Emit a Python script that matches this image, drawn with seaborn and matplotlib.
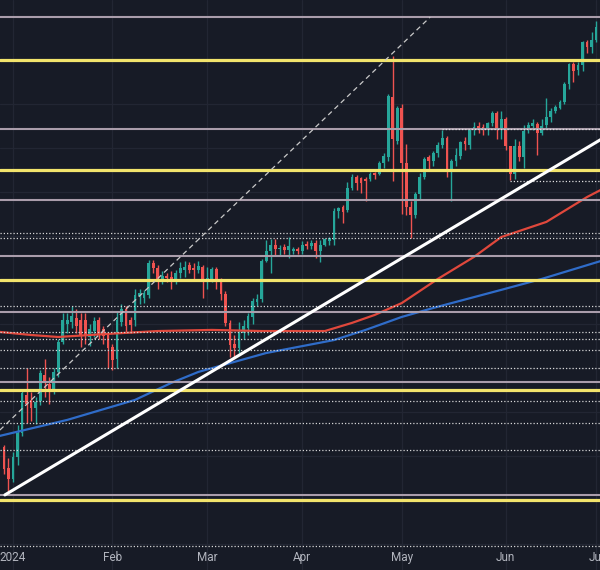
import numpy as np
import pandas as pd
import matplotlib
matplotlib.use("Agg")
import matplotlib.pyplot as plt
import seaborn as sns

# ---- daily candles, Dec 28 2023 .. Jul 1 2024 (bar 0 = Jan 2 2024) ----
first_bar = -2
opens = [142.40, 141.45,
         140.95, 141.95, 143.05, 144.75, 144.55, 144.20, 144.50, 145.70, 145.25, 144.90,
         145.80, 147.20, 148.00, 148.10, 148.25, 148.20, 148.20, 147.40, 147.70, 148.20,
         147.75, 147.50,
         146.95, 146.40, 148.10, 148.70, 148.20, 148.20, 149.25, 149.20, 149.30, 150.75,
         150.55, 149.90, 150.20, 150.15, 149.95, 150.30, 150.45, 150.70, 150.55, 150.45,
         150.60,
         149.95, 150.05, 150.50, 149.95, 149.35, 148.05, 147.10, 146.90, 147.60, 147.80,
         148.30, 149.00, 149.15, 150.85, 151.30, 151.60, 151.40, 151.50, 151.35, 151.30,
         151.40,
         151.30, 151.65, 151.55, 151.70, 151.30, 151.60, 151.75, 151.80, 153.15, 153.30,
         153.20, 154.20, 154.70, 154.65, 154.60, 154.60, 154.85, 154.80, 155.30, 155.60,
         158.30, 156.30,
         157.80, 155.30, 153.30, 152.95, 153.90, 154.70, 155.60, 155.40, 155.75, 156.15,
         156.45, 154.90, 155.40, 155.65, 156.30, 156.15, 156.80, 157.00, 156.95, 156.80,
         157.15, 157.60, 156.80,
         157.30, 156.10, 154.80, 156.10, 155.60, 156.80, 157.00, 157.10, 156.70, 157.05,
         157.40, 157.70, 157.80, 158.10, 158.90, 159.80, 159.55, 159.75, 160.80, 160.60,
         160.90]
highs = [142.50, 141.90,
         142.20, 143.40, 145.00, 146.00, 144.90, 144.70, 145.90, 146.40, 145.60, 146.00,
         147.30, 148.50, 148.50, 148.80, 148.70, 148.50, 148.50, 148.00, 148.30, 148.30,
         147.90, 147.60,
         147.10, 148.60, 148.90, 148.80, 148.30, 149.60, 149.60, 149.55, 150.90, 150.90,
         150.70, 150.40, 150.30, 150.40, 150.45, 150.80, 150.85, 150.80, 150.75, 150.85,
         150.70,
         150.60, 150.60, 150.60, 150.10, 149.50, 148.20, 147.50, 148.10, 148.20, 148.50,
         149.20, 149.35, 150.95, 151.80, 151.85, 151.85, 151.60, 151.65, 151.95, 151.50,
         151.50,
         151.75, 151.75, 151.80, 151.80, 151.80, 151.90, 151.95, 153.25, 153.30, 153.40,
         154.45, 154.80, 154.75, 154.70, 154.70, 154.90, 154.90, 155.40, 155.75, 158.45,
         160.20, 157.90,
         158.00, 156.20, 153.60, 154.00, 154.85, 155.60, 155.70, 155.85, 156.25, 156.80,
         156.55, 155.50, 156.00, 156.30, 156.50, 156.85, 157.20, 157.20, 157.10, 157.20,
         157.70, 157.70, 157.70,
         157.40, 156.10, 156.40, 156.30, 157.05, 157.20, 157.30, 157.20, 157.30, 158.25,
         157.80, 157.95, 158.20, 159.00, 159.85, 159.90, 159.90, 160.85, 160.90, 161.27,
         161.75]
lows = [141.20, 140.40,
        140.80, 141.60, 142.90, 143.50, 143.60, 143.45, 144.30, 144.70, 144.35, 144.80,
        145.60, 147.10, 147.60, 147.80, 147.60, 146.95, 147.10, 147.00, 147.40, 147.30,
        147.10, 146.00,
        145.90, 146.00, 147.90, 147.60, 147.60, 147.90, 148.90, 148.95, 149.20, 150.30,
        149.60, 149.80, 149.90, 149.60, 149.80, 150.10, 150.15, 150.30, 150.05, 150.30,
        149.20,
        149.60, 149.90, 149.60, 149.10, 147.90, 146.50, 146.50, 146.70, 147.30, 147.50,
        148.00, 148.80, 149.00, 150.80, 150.30, 151.10, 151.10, 151.20, 151.00, 151.20,
        151.20,
        151.20, 151.40, 151.40, 151.00, 150.80, 151.55, 151.60, 151.60, 152.80, 152.60,
        153.10, 154.10, 154.10, 153.95, 153.60, 154.50, 154.60, 154.75, 155.10, 155.40,
        154.50, 156.20,
        153.00, 152.95, 151.90, 152.80, 153.70, 154.60, 155.00, 155.20, 155.60, 156.00,
        154.70, 153.60, 155.20, 155.50, 155.90, 155.95, 156.60, 156.70, 156.60, 156.60,
        157.00, 156.40, 156.40,
        155.90, 154.55, 154.60, 155.40, 155.10, 156.70, 156.80, 155.70, 156.60, 156.90,
        157.20, 157.60, 157.75, 158.00, 158.70, 159.00, 159.30, 159.50, 160.30, 160.30,
        160.80]
closes = [141.40, 140.95,
          141.95, 143.05, 144.85, 144.35, 144.20, 144.45, 145.75, 145.30, 144.90, 145.80,
          147.20, 148.20, 148.20, 148.35, 147.90, 147.45, 147.50, 147.75, 148.15, 147.50,
          147.45, 146.90,
          146.35, 148.20, 148.70, 147.90, 147.95, 149.30, 149.40, 149.40, 150.75, 150.55,
          149.90, 150.20, 150.10, 149.95, 150.30, 150.55, 150.60, 150.45, 150.45, 150.65,
          149.90,
          150.10, 150.50, 149.95, 149.35, 148.05, 147.05, 146.90, 147.65, 147.90, 148.35,
          149.05, 149.15, 150.85, 151.30, 151.60, 151.40, 151.45, 151.35, 151.55, 151.40,
          151.30,
          151.60, 151.55, 151.70, 151.30, 151.60, 151.85, 151.90, 153.15, 153.25, 153.10,
          154.20, 154.70, 154.40, 154.40, 154.50, 154.80, 154.75, 155.30, 155.65, 158.35,
          156.40, 157.80,
          155.30, 153.30, 152.95, 153.90, 154.70, 155.50, 155.40, 155.75, 156.15, 156.45,
          154.90, 155.40, 155.70, 156.25, 156.20, 156.80, 156.95, 156.90, 156.85, 157.15,
          157.60, 156.80, 157.30,
          156.10, 154.80, 156.10, 155.60, 156.75, 157.05, 157.15, 156.70, 157.00, 157.40,
          157.70, 157.85, 158.10, 158.90, 159.80, 159.50, 159.75, 160.80, 160.60, 160.90,
          161.50]

month_ticks = [0, 22, 43, 64, 86, 109, 129]
month_labels = ["2024", "Feb", "Mar", "Apr", "May", "Jun", "Jul"]

# moving averages (bar index, price)
ma_red_bar = [-3, 4, 10, 21, 32, 44, 55, 69, 75, 80, 86, 94, 102, 108, 118, 127, 130]
ma_red_val = [147.64, 147.50, 147.41, 147.55, 147.68, 147.73, 147.68, 147.68, 148.05,
              148.41, 148.95, 150.05, 151.05, 151.95, 152.64, 153.77, 154.09]
ma_blue_bar = [-3, 12, 27, 35, 41, 56, 71, 78, 86, 93, 108, 117, 130]
ma_blue_val = [142.91, 143.64, 144.55, 145.32, 145.82, 146.68, 147.27, 147.73, 148.32,
               148.73, 149.55, 150.05, 150.86]

# drawn levels
yellow_levels = [160.0, 155.0, 150.0, 145.0, 140.0]
grey_levels = [161.95, 156.86, 153.64, 151.09, 148.55, 145.36, 140.23]
dotted_levels = [152.14, 151.90, 148.82, 147.64, 147.32, 146.82, 146.00, 144.50,
                 143.50, 142.27, 137.90]
short_dotted_levels = [156.86, 154.50]
short_dotted_from = [95, 110]
trend_bar = [-1.8, 130.0]
trend_val = [140.23, 156.38]
dash_bar = [-2.9, 92.3]
dash_val = [143.18, 161.95]

BG = "#171b26"
UP = "#26a69a"
DOWN = "#ef5350"

sns.set_theme(style="dark", rc={"axes.facecolor": BG, "figure.facecolor": BG})
plt.rcParams["font.family"] = ["Roboto", "DejaVu Sans"]

fig = plt.figure(figsize=(6.0, 5.7), dpi=100)
ax = fig.add_axes([0, 0, 1, 1])
ax.set_facecolor(BG)

x0, x1 = -2.876, 129.87
y0, y1 = 136.818, 162.727
ax.set_xlim(x0, x1)
ax.set_ylim(y0, y1)

# faint grid
ax.set_yticks(np.arange(138, 163, 2))
ax.set_xticks(month_ticks, month_labels)
ax.grid(True, color="#222633", linewidth=0.9)
ax.tick_params(axis="y", length=0, labelleft=False)
ax.tick_params(axis="x", length=0, pad=-14, labelcolor="#b2b5be", labelsize=8.5)
for s in ax.spines.values():
    s.set_visible(False)

# candles
pos = np.arange(len(opens)) + first_bar
o = np.array(opens); h = np.array(highs); l = np.array(lows); c = np.array(closes)
cols = np.where(c >= o, UP, DOWN)
ax.vlines(pos, l, h, colors=cols, linewidth=1.0, zorder=3)
body = np.maximum(np.abs(c - o), 0.04)
ax.bar(pos, body, bottom=np.minimum(o, c), width=0.62, color=cols, linewidth=0, zorder=3)

# moving averages
sns.lineplot(x=ma_red_bar, y=ma_red_val, ax=ax, color="#e0483c", linewidth=1.6, zorder=4)
sns.lineplot(x=ma_blue_bar, y=ma_blue_val, ax=ax, color="#2f6cc9", linewidth=1.6, zorder=4)

# horizontal levels
for v in grey_levels:
    ax.axhline(v, color="#aa9dab", linewidth=1.5, zorder=5)
for v in yellow_levels:
    ax.axhline(v, color="#f2e46c", linewidth=2.3, zorder=5)
for v in dotted_levels:
    ax.axhline(v, color="#d6d6d6", linewidth=0.9, linestyle=(0, (1, 1.6)), zorder=5)
for v, s in zip(short_dotted_levels, short_dotted_from):
    ax.hlines(v, s, x1, color="#e0e0e0", linewidth=0.9, linestyle=(0, (1, 1.6)), zorder=6)

# trend lines
ax.plot(dash_bar, dash_val, color="#c9c9c9", linewidth=0.9, linestyle=(0, (4, 3)), zorder=6)
ax.plot(trend_bar, trend_val, color="#ffffff", linewidth=2.2, zorder=6,
        solid_capstyle="round")

ax.set_xlabel("")
ax.set_ylabel("")
if ax.get_legend():
    ax.get_legend().remove()

fig.savefig("out.png", dpi=100, facecolor=BG)
